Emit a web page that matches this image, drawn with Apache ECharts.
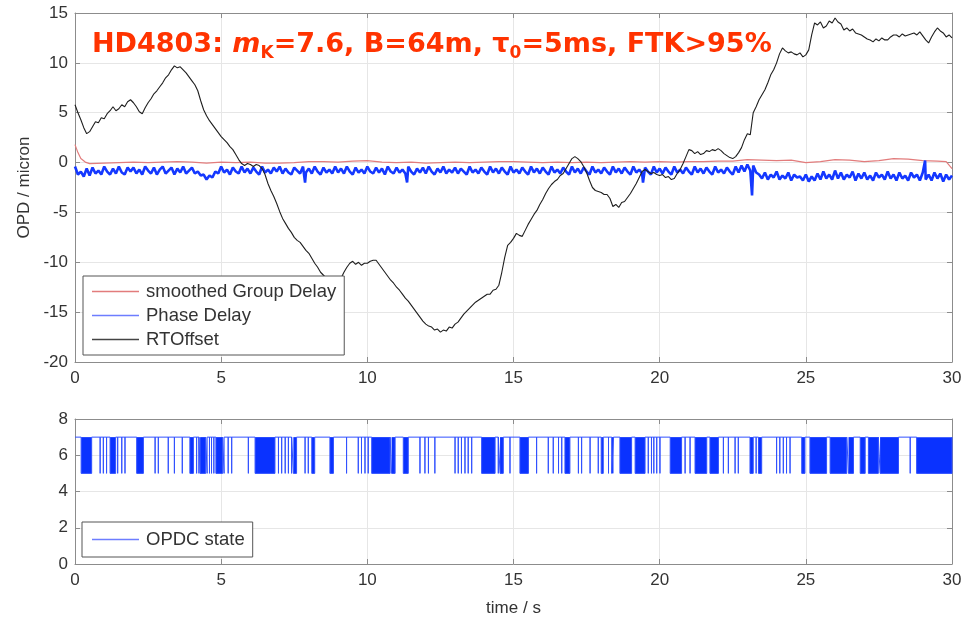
<!DOCTYPE html>
<html>
<head>
<meta charset="utf-8">
<script src="https://cdn.jsdelivr.net/npm/echarts@6/dist/echarts.min.js"></script>
<style>
  html, body { margin: 0; padding: 0; background: #fff; }
  #chart { width: 977px; height: 618px; }
</style>
</head>
<body>
<div id="chart"></div>
<script>
// Sampling step (s) of the RTOffset and Phase Delay traces
const T_STEP = 0.1;

// RTOffset (micron), one value every T_STEP from 0 to 30 s
const rtOffset = [
  5.8, 5.0, 4.3, 3.5, 2.9, 3.1, 3.6, 4.1, 4.0, 4.5,
  4.4, 4.9, 5.2, 5.6, 5.2, 5.4, 5.8, 5.6, 6.1, 6.3,
  6.0, 5.6, 5.1, 4.9, 5.5, 6.0, 6.4, 6.9, 7.2, 7.6,
  8.0, 8.5, 8.8, 9.3, 9.7, 9.5, 9.6, 9.3, 9.0, 8.6,
  8.2, 7.8, 7.2, 6.2, 5.3, 4.7, 4.2, 3.8, 3.4, 3.0,
  2.6, 2.3, 2.0, 1.6, 1.3, 0.8, 0.3, -0.1, -0.3, -0.1,
  -0.2, -0.4, -0.2, -0.3, -0.6, -1.2, -2.1, -2.8, -3.4, -4.1,
  -4.9, -5.6, -6.1, -6.6, -7.0, -7.5, -7.8, -8.0, -8.4, -8.8,
  -9.1, -9.6, -10.1, -10.5, -11.0, -11.3, -11.6, -11.5, -11.8, -11.7,
  -11.9, -11.6, -11.0, -10.5, -10.1, -9.9, -10.2, -10.0, -10.3, -10.1,
  -10.1, -9.9, -9.8, -9.8, -10.2, -10.6, -11.0, -11.4, -11.8, -12.1,
  -12.5, -12.8, -13.2, -13.6, -13.9, -14.3, -14.7, -15.1, -15.5, -15.9,
  -16.2, -16.4, -16.5, -16.8, -16.7, -17.0, -16.8, -16.9, -16.5, -16.6,
  -16.2, -16.0, -15.6, -15.2, -14.9, -14.6, -14.3, -14.0, -13.8, -13.6,
  -13.4, -13.2, -13.2, -12.8, -12.7, -12.3, -11.0, -9.5, -8.3, -8.0,
  -7.6, -7.1, -7.3, -7.4, -6.8, -6.2, -5.7, -5.2, -4.8, -4.2,
  -3.7, -3.1, -2.6, -2.2, -1.9, -1.7, -1.3, -1.1, -0.6, -0.1,
  0.4, 0.6, 0.4, 0.1, -0.4, -1.0, -1.8, -2.5, -2.8, -2.9,
  -3.0, -3.2, -3.2, -3.6, -4.4, -4.2, -4.5, -4.0, -3.9, -3.5,
  -3.1, -2.6, -2.1, -1.5, -0.9, -0.7, -0.9, -1.1, -1.0, -1.2,
  -1.3, -1.2, -1.5, -1.4, -1.7, -1.6, -1.1, -0.7, -0.1, 0.6,
  1.3, 1.2, 0.9, 1.1, 0.8, 0.9, 1.2, 1.1, 1.3, 1.2,
  1.4, 1.2, 0.9, 0.7, 0.5, 0.4, 0.6, 1.0, 1.5, 2.3,
  2.9, 2.8, 5.0, 5.6, 6.3, 6.8, 7.3, 8.0, 8.8, 9.3,
  10.0, 10.9, 11.5, 11.2, 11.0, 11.1, 10.9, 10.8, 11.0, 10.6,
  10.8, 11.3, 12.8, 14.0, 13.8, 14.1, 13.5, 13.7, 14.2, 14.0,
  14.5, 14.1, 13.9, 13.3, 13.5, 13.2, 13.4, 13.0, 12.9, 12.8,
  12.6, 12.4, 12.3, 12.1, 12.4, 12.2, 12.5, 12.3, 12.3, 12.6,
  12.8, 12.8, 12.6, 12.9, 12.7, 12.8, 12.9, 13.0, 12.8, 13.1,
  12.7, 12.3, 12.0, 12.6, 13.1, 13.5, 13.2, 13.0, 12.6, 12.8,
  12.5
];

// Phase Delay (micron), one value every T_STEP from 0 to 30 s
const phaseDelay = [
  -0.4, -1.2, -0.9, -1.4, -0.6, -1.3, -0.5, -1.1, -0.8, -1.2,
  -0.4, -0.9, -1.2, -0.6, -1.1, -0.4, -1.0, -1.2, -0.5, -0.9,
  -0.5, -1.1, -0.7, -1.2, -0.4, -0.8, -1.1, -0.5, -1.2, -0.7,
  -0.4, -1.1, -0.8, -0.5, -1.2, -0.6, -1.0, -0.4, -1.1, -0.8,
  -0.5, -1.1, -0.9, -1.3, -1.2, -1.7, -1.3, -1.5, -0.9, -1.1,
  -0.4, -1.0, -0.7, -1.2, -0.5, -0.9, -1.1, -0.4, -1.0, -0.6,
  -1.1, -0.5, -0.9, -1.2, -0.4, -1.0, -0.7, -1.1, -0.5, -0.9,
  -0.4, -1.1, -0.6, -1.0, -1.2, -0.5, -0.8, -1.1, -0.4, -1.0,
  -0.6, -1.1, -0.4, -0.9, -1.2, -0.5, -1.0, -0.7, -1.1, -0.4,
  -1.0, -0.6, -1.1, -0.4, -0.9, -1.2, -0.5, -1.0, -0.7, -1.1,
  -0.4, -0.9, -1.1, -0.5, -1.0, -0.6, -1.2, -0.4, -0.9, -1.1,
  -0.5, -1.0, -0.7, -1.1, -0.4, -0.9, -1.2, -0.6, -1.0, -0.5,
  -1.1, -0.4, -0.9, -1.2, -0.6, -1.0, -0.4, -1.1, -0.7, -1.0,
  -0.5, -1.1, -0.6, -0.9, -1.2, -0.4, -1.0, -0.7, -1.1, -0.5,
  -0.9, -1.2, -0.4, -1.0, -0.6, -1.1, -0.5, -0.9, -1.2, -0.4,
  -1.0, -0.7, -1.1, -0.5, -0.9, -1.2, -0.4, -1.0, -0.6, -1.1,
  -0.5, -0.9, -1.2, -0.4, -1.0, -0.7, -1.1, -0.5, -0.9, -1.2,
  -0.4, -1.0, -0.6, -1.1, -0.5, -0.9, -1.2, -0.4, -1.0, -0.7,
  -1.1, -0.5, -0.9, -1.2, -0.4, -1.0, -0.6, -1.1, -0.5, -0.9,
  -1.2, -0.4, -1.0, -0.7, -1.1, -0.5, -0.9, -1.2, -0.4, -1.0,
  -0.6, -1.1, -0.5, -0.9, -1.2, -0.4, -1.0, -0.7, -1.1, -0.5,
  -0.9, -1.2, -0.4, -1.0, -0.6, -1.1, -0.5, -0.9, -1.2, -0.4,
  -1.0, -0.7, -1.1, -0.5, -0.9, -1.2, -0.4, -1.0, -0.3, -0.9,
  -0.2, -0.8, -0.3, -1.0, -1.2, -1.6, -1.0, -1.7, -1.2, -1.5,
  -0.9, -1.7, -1.3, -1.6, -1.0, -1.8, -1.2, -1.5, -1.4, -1.8,
  -1.2, -1.9, -1.4, -1.8, -1.1, -1.7, -0.9, -1.6, -1.2, -1.7,
  -0.8, -1.6, -1.0, -1.7, -1.2, -1.5, -0.9, -1.8, -1.1, -1.6,
  -1.0, -1.7, -1.3, -1.8, -1.0, -1.5, -1.2, -1.7, -0.9, -1.6,
  -1.2, -1.8, -1.0, -1.6, -1.3, -1.8, -1.0, -1.5, -1.2, -1.8,
  -1.0, -1.7, -1.2, -1.8, -1.0, -1.6, -1.1, -1.9, -1.2, -1.7,
  -1.3
];

// Isolated Phase Delay spikes [time s, micron]
const phaseSpikes = [
  [7.87, -2.0], [11.36, -2.0], [19.43, -2.0], [23.16, -3.3], [29.08, 0.2]
];

// Smoothed Group Delay [time s, micron]
const groupDelay = [
  [0, 1.8], [0.1, 1.0], [0.2, 0.4], [0.35, 0.05], [0.5, -0.1], [1, -0.05],
  [1.5, 0], [2, 0.05], [2.5, 0], [3, 0.05], [3.5, 0.1], [4, 0.05], [4.5, -0.05],
  [5, 0.05], [5.5, 0], [6, 0.05], [6.5, -0.05], [7, -0.05], [7.5, 0], [8, 0.1],
  [8.5, 0.1], [9, 0.05], [9.5, 0.15], [10, 0.2], [10.5, 0.05], [11, 0],
  [11.5, 0.05], [12, -0.05], [12.5, 0], [13, 0.05], [13.5, 0], [14, 0.05],
  [14.5, 0.1], [15, 0.1], [15.5, 0.05], [16, 0], [16.5, 0.05], [17, 0],
  [17.5, 0.05], [18, 0], [18.5, 0.05], [19, 0.1], [19.5, 0.05], [20, 0.1],
  [20.5, 0.05], [21, 0.1], [21.5, 0.1], [22, 0.15], [22.5, 0.15], [23, 0.3],
  [23.5, 0.25], [24, 0.2], [24.5, 0.25], [25, 0.0], [25.5, 0.1], [26, 0.3],
  [26.5, 0.25], [27, 0.1], [27.5, 0.2], [28, 0.4], [28.5, 0.35], [29, 0.2],
  [29.5, 0.15], [29.8, 0.1], [30, -0.6]
];

// OPDC state: base level, dip level and the [start, end] times (s) of dips
const opdcHigh = 7;
const opdcLow = 5;
const opdcDips = [
  [0.21, 0.57], [0.86, 0.86], [0.97, 0.97], [1.08, 1.08], [1.2, 1.39], [1.46, 1.46],
  [1.6, 1.6], [1.71, 1.71], [2.11, 2.34], [2.74, 2.74], [2.85, 2.85], [3.19, 3.19],
  [3.4, 3.4], [3.67, 3.67], [3.93, 4.05], [4.16, 4.16], [4.24, 4.24], [4.28, 4.47],
  [4.52, 4.52], [4.6, 4.6], [4.67, 4.67], [4.75, 4.75], [4.82, 5.05], [5.1, 5.1],
  [5.24, 5.24], [5.36, 5.36], [5.93, 5.93], [6.16, 6.84], [6.96, 6.96], [7.07, 7.07],
  [7.19, 7.19], [7.3, 7.3], [7.41, 7.41], [7.47, 7.58], [7.87, 7.87], [7.98, 7.98],
  [8.1, 8.2], [8.72, 8.84], [9.29, 9.29], [9.69, 9.69], [9.8, 9.8], [9.92, 9.92],
  [10.03, 10.03], [10.15, 10.78], [10.83, 10.95], [11.23, 11.4], [11.8, 11.8],
  [11.97, 11.97], [12.09, 12.09], [12.31, 12.31], [13.0, 13.0], [13.11, 13.11],
  [13.22, 13.22], [13.34, 13.34], [13.45, 13.45], [13.57, 13.57], [13.91, 14.37],
  [14.48, 14.48], [14.54, 14.65], [14.88, 14.88], [15.22, 15.51], [15.79, 15.79],
  [16.19, 16.19], [16.36, 16.36], [16.54, 16.54], [16.65, 16.65], [16.76, 16.93],
  [17.22, 17.22], [17.33, 17.33], [17.62, 17.62], [17.9, 17.9], [18.0, 18.07],
  [18.25, 18.25], [18.36, 18.42], [18.64, 19.04], [19.16, 19.5], [19.61, 19.61],
  [19.72, 19.72], [19.8, 19.8], [19.9, 19.9], [20.01, 20.01], [20.36, 20.75],
  [20.87, 20.87], [21.04, 21.04], [21.21, 21.61], [21.72, 22.01], [22.18, 22.18],
  [22.35, 22.35], [22.58, 22.58], [22.69, 22.69], [23.09, 23.2], [23.3, 23.3],
  [23.38, 23.49], [24.0, 24.0], [24.11, 24.11], [24.23, 24.23], [24.34, 24.34],
  [24.46, 24.46], [24.86, 24.97], [25.14, 25.71], [25.83, 26.4], [26.46, 26.63],
  [26.86, 27.03], [27.14, 27.48], [27.54, 28.17], [28.57, 28.57], [28.79, 30.0]
];

// Axis ranges / tick spacing
const timeTicks = { min: 0, max: 30, interval: 5 };
const opdTicks = { min: -20, max: 15, interval: 5 };
const stateTicks = { min: 0, max: 8, interval: 2 };

// ---- build series data ----
const rtData = rtOffset.map((v, i) => [+(i * T_STEP).toFixed(2), v]);
const pdData = phaseDelay.map((v, i) => [+(i * T_STEP).toFixed(2), v])
  .concat(phaseSpikes)
  .sort((a, b) => a[0] - b[0]);

const stateLine = [[timeTicks.min, opdcHigh]];
opdcDips.forEach(([a, b]) => {
  if (a === b) {
    stateLine.push([a, opdcHigh], [a, opdcLow], [a, opdcHigh]);
  } else {
    stateLine.push([a, opdcHigh], [a, opdcLow], [b, opdcLow], [b, opdcHigh]);
  }
});
stateLine.push([timeTicks.max, opdcHigh]);
const stateBlocks = opdcDips.filter(([a, b]) => b > a);

const FONT = 'Liberation Sans, Arial, sans-serif';
const AX = '#8c8c8c';
const GRIDLINE = '#e6e6e6';
const LABEL = '#333';

function mainAxisX(gridIndex, withName) {
  return {
    type: 'value', gridIndex, ...timeTicks,
    name: withName ? 'time / s' : '', nameLocation: 'middle', nameGap: 36,
    nameTextStyle: { fontFamily: FONT, fontSize: 17, color: LABEL },
    axisLine: { show: true, onZero: false, lineStyle: { color: AX, width: 1 } },
    axisTick: { show: true, inside: true, length: 5, lineStyle: { color: AX } },
    axisLabel: { fontFamily: FONT, fontSize: 17, color: LABEL, margin: 8 },
    splitLine: { show: true, lineStyle: { color: GRIDLINE, width: 1 } }
  };
}
function mirrorAxisX(gridIndex) {
  return {
    type: 'value', gridIndex, position: 'top', ...timeTicks,
    axisLine: { show: true, onZero: false, lineStyle: { color: AX, width: 1 } },
    axisTick: { show: true, inside: true, length: 5, lineStyle: { color: AX } },
    axisLabel: { show: false }, splitLine: { show: false }
  };
}
function mainAxisY(gridIndex, ticks, name) {
  return {
    type: 'value', gridIndex, ...ticks,
    name, nameLocation: 'middle', nameGap: 42,
    nameTextStyle: { fontFamily: FONT, fontSize: 17, color: LABEL },
    axisLine: { show: true, onZero: false, lineStyle: { color: AX, width: 1 } },
    axisTick: { show: true, inside: true, length: 5, lineStyle: { color: AX } },
    axisLabel: { fontFamily: FONT, fontSize: 17, color: LABEL, margin: 7 },
    splitLine: { show: true, lineStyle: { color: GRIDLINE, width: 1 } }
  };
}
function mirrorAxisY(gridIndex, ticks) {
  return {
    type: 'value', gridIndex, position: 'right', ...ticks,
    axisLine: { show: true, onZero: false, lineStyle: { color: AX, width: 1 } },
    axisTick: { show: true, inside: true, length: 5, lineStyle: { color: AX } },
    axisLabel: { show: false }, splitLine: { show: false }
  };
}

const legendBase = {
  orient: 'vertical', icon: 'rect', itemWidth: 47, itemHeight: 1.5,
  backgroundColor: '#fff', borderColor: '#555', borderWidth: 1,
  textStyle: { fontFamily: FONT, fontSize: 18.5, color: LABEL, padding: [0, 0, 0, 2] },
  selectedMode: false
};

const TITLE_RED = '#ff3300';
const tFont = 'DejaVu Sans, Verdana, sans-serif';

const option = {
  animation: false,
  backgroundColor: '#fff',
  title: {
    left: 87, top: 23,
    text: '{a|HD4803: }{i|m}{s|K}{a|=7.6, B=64m, τ}{s|0}{a|=5ms, FTK>95%}',
    textStyle: {
      rich: {
        a: { fontFamily: tFont, fontWeight: 'bold', fontSize: 27, color: TITLE_RED, lineHeight: 34 },
        i: { fontFamily: tFont, fontWeight: 'bold', fontStyle: 'italic', fontSize: 27, color: TITLE_RED, lineHeight: 34 },
        s: { fontFamily: tFont, fontWeight: 'bold', fontSize: 17, color: TITLE_RED, lineHeight: 12, verticalAlign: 'bottom' }
      }
    }
  },
  grid: [
    { left: 75, right: 25, top: 13, height: 349 },
    { left: 75, right: 25, top: 419, height: 146 }
  ],
  xAxis: [mainAxisX(0, false), mirrorAxisX(0), mainAxisX(1, true), mirrorAxisX(1)],
  yAxis: [
    mainAxisY(0, opdTicks, 'OPD / micron'), mirrorAxisY(0, opdTicks),
    mainAxisY(1, stateTicks, ''), mirrorAxisY(1, stateTicks)
  ],
  legend: [
    Object.assign({}, legendBase, {
      data: ['smoothed Group Delay', 'Phase Delay', 'RTOffset'],
      left: 83, top: 276, padding: [6, 8, 6, 9], itemGap: 5
    }),
    Object.assign({}, legendBase, {
      data: ['OPDC state'],
      left: 82, top: 522, padding: [8, 8, 8, 10]
    })
  ],
  series: [
    {
      name: 'smoothed Group Delay', type: 'line', xAxisIndex: 0, yAxisIndex: 0,
      data: groupDelay, showSymbol: false, symbol: 'none',
      color: '#e27c7c', lineStyle: { color: '#e27c7c', width: 1.2 }
    },
    {
      name: 'Phase Delay', type: 'line', xAxisIndex: 0, yAxisIndex: 0,
      data: pdData, showSymbol: false, symbol: 'none',
      color: '#6d7dff', lineStyle: { color: '#1438ff', width: 2.6 }
    },
    {
      name: 'RTOffset', type: 'line', xAxisIndex: 0, yAxisIndex: 0,
      data: rtData, showSymbol: false, symbol: 'none',
      color: '#444', lineStyle: { color: '#1e1e1e', width: 1.1 }
    },
    {
      name: 'OPDC state', type: 'line', xAxisIndex: 2, yAxisIndex: 2,
      data: stateLine, showSymbol: false, symbol: 'none',
      color: '#6d7dff', lineStyle: { color: '#3050ff', width: 1 }
    },
    {
      name: 'OPDC state', type: 'custom', xAxisIndex: 2, yAxisIndex: 2,
      data: stateBlocks, encode: { x: [0, 1] },
      renderItem: function (params, api) {
        const p0 = api.coord([api.value(0), opdcHigh]);
        const p1 = api.coord([api.value(1), opdcLow]);
        return {
          type: 'rect',
          shape: { x: p0[0], y: p0[1], width: p1[0] - p0[0], height: p1[1] - p0[1] },
          style: { fill: '#0a32ff' }
        };
      }
    }
  ]
};

const chart = echarts.init(document.getElementById('chart'), null, { renderer: 'canvas' });
chart.setOption(option);
</script>
</body>
</html>
